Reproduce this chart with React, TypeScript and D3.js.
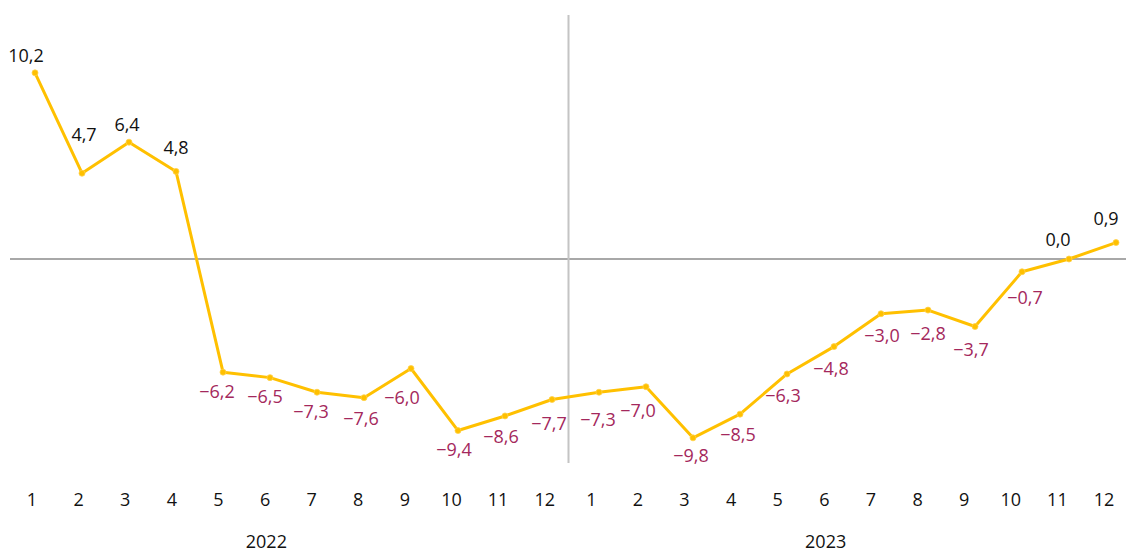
import React from "react";
import * as d3 from "d3";

const months = ["1","2","3","4","5","6","7","8","9","10","11","12","1","2","3","4","5","6","7","8","9","10","11","12"];
const years = ["2022", "2023"];
const values = [10.2, 4.7, 6.4, 4.8, -6.2, -6.5, -7.3, -7.6, -6.0, -9.4, -8.6, -7.7, -7.3, -7.0, -9.8, -8.5, -6.3, -4.8, -3.0, -2.8, -3.7, -0.7, 0.0, 0.9];
// small per-label nudges (layout only) relative to the default placement
const labelNudgeX = [-9, 2, -2, 0, -6, -5, -6, -3, -9, -4, -4, -3, -1, -8, -2, -2, -4, -3, 1, 0, -4, 3, -11, -10];
const labelNudgeY = [-17, -39, -18, -24, 20, 19, 19, 21, 29, 19, 21, 24, 27, 24, 18, 21, 22, 22, 22, 24, 23, 26, -19, -24];

const W = 1126;
const H = 553;
const LINE = "#FFC000";
const NEG = "#a4285c";
const FONT = "'Open Sans', 'Noto Sans', sans-serif";

const fmt = (v: number) => {
  const s = Math.abs(v).toFixed(1).replace(".", ",");
  return v < 0 ? "\u2212" + s : s;
};

export default function App() {
  const idx = d3.range(values.length);
  const x = d3.scalePoint<number>().domain(idx).range([35, 1116]);
  const xLab = d3.scalePoint<number>().domain(idx).range([32, 1104]);
  const y = d3.scaleLinear().domain([-12, 12]).range([259 + 12 * 18.25, 259 - 12 * 18.25]);
  const line = d3.line<number>().x((d, i) => x(i)!).y((d) => y(d));
  const y0 = y(0);
  const midX = (x(11)! + x(12)!) / 2 - 7;

  return (
    <svg width={W} height={H} style={{ position: "absolute", left: 0, top: 0, background: "#fff" }} fontFamily={FONT}>
      <line x1={10} x2={W} y1={y0} y2={y0} stroke="#a8a8a8" strokeWidth={2} />
      <line x1={midX} x2={midX} y1={15} y2={463} stroke="#c4c4c4" strokeWidth={2} />
      <path d={line(values) || ""} fill="none" stroke={LINE} strokeWidth={3} strokeLinejoin="round" />
      {values.map((v, i) => (
        <circle key={"p" + i} cx={x(i)!} cy={y(v)} r={3} fill={LINE} stroke="#ffd24d" strokeWidth={0.8} />
      ))}
      {values.map((v, i) => (
        <text
          key={"l" + i}
          x={x(i)! + labelNudgeX[i]}
          y={y(v) + labelNudgeY[i]}
          dy="0.35em"
          textAnchor="middle"
          fontSize={18}
          fill={v < 0 ? NEG : "#111"}
        >
          {fmt(v)}
        </text>
      ))}
      {months.map((m, i) => (
        <text key={"m" + i} x={xLab(i)!} y={506} textAnchor="middle" fontSize={18} fill="#111">
          {m}
        </text>
      ))}
      {years.map((yr, k) => (
        <text key={"y" + k} x={(xLab(k * 12)! + xLab(k * 12 + 11)!) / 2 - 22} y={548} textAnchor="middle" fontSize={18} fill="#111">
          {yr}
        </text>
      ))}
    </svg>
  );
}
